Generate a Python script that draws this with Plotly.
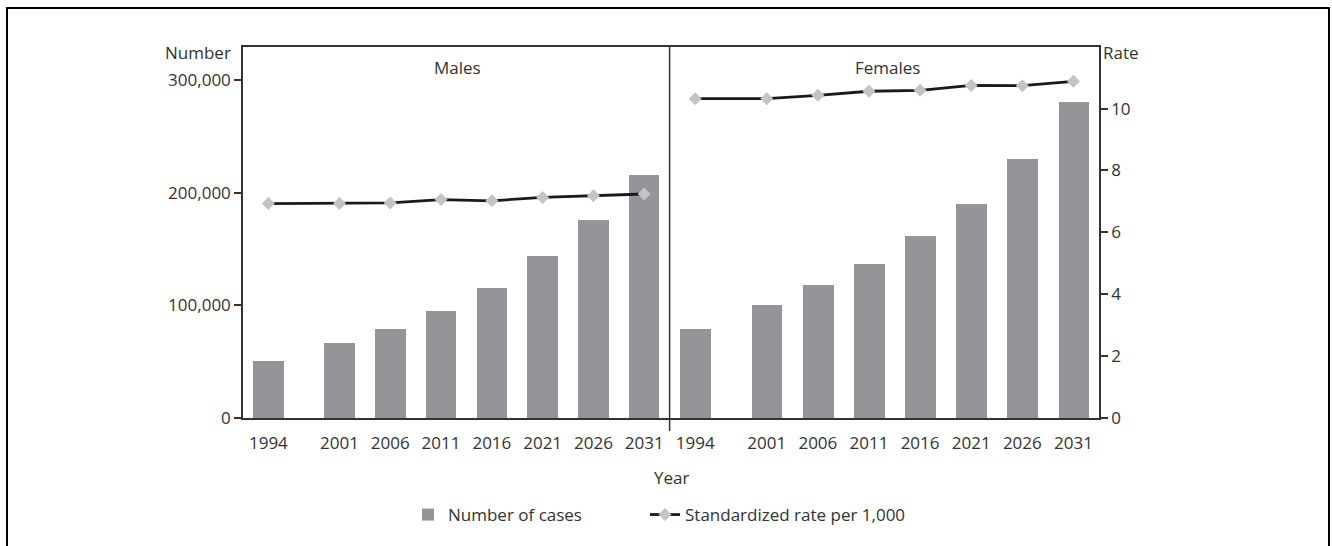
import plotly.graph_objects as go

# ---- data ----
years = [1994, 2001, 2006, 2011, 2016, 2021, 2026, 2031]
year_labels = ["1994", "2001", "2006", "2011", "2016", "2021", "2026", "2031"]
males_cases = [50600, 66500, 79800, 95700, 116000, 144000, 176000, 216500]
females_cases = [79000, 100400, 118100, 136800, 161600, 190900, 230900, 281000]
males_rate = [6.93, 6.93, 6.95, 7.06, 7.02, 7.13, 7.18, 7.24]
females_rate = [10.32, 10.32, 10.43, 10.56, 10.59, 10.75, 10.74, 10.88]
count_ticks = [0, 100000, 200000, 300000]
count_tick_labels = ["0", "100,000", "200,000", "300,000"]
rate_ticks = [0, 2, 4, 6, 8, 10]

W, H = 1332, 546
def px(x): return x / W
def py(y): return 1 - y / H

FONT = "Open Sans"
TXT = "#333333"
AX = "#333333"
BAR = "#939598"
MARK = "#c4c4c4"

x_left, x_mid, x_right = 243, 669.6, 1099
y_top, y_bot = 46.7, 418

fig = go.Figure()
fig.add_trace(go.Bar(x=years, y=males_cases, xaxis="x", yaxis="y", width=3.0,
                     marker=dict(color=BAR, line=dict(width=0)),
                     name="Number of cases", showlegend=True, legend="legend"))
fig.add_trace(go.Bar(x=years, y=females_cases, xaxis="x2", yaxis="y", width=3.0,
                     marker=dict(color=BAR, line=dict(width=0)),
                     name="Number of cases", showlegend=False))
line_style = dict(color="#1a1a1a", width=2.8)
mk = dict(symbol="diamond", color=MARK, size=10, line=dict(width=0))
fig.add_trace(go.Scatter(x=years, y=males_rate, xaxis="x", yaxis="y2", mode="lines+markers",
                         line=line_style, marker=mk, name="Standardized rate per 1,000",
                         showlegend=True, legend="legend2"))
fig.add_trace(go.Scatter(x=years, y=females_rate, xaxis="x2", yaxis="y2", mode="lines+markers",
                         line=line_style, marker=mk, name="Standardized rate per 1,000",
                         showlegend=False))

xcommon = dict(range=[1991.5, 2033.5], tickvals=years, ticktext=year_labels,
               showline=True, linecolor=AX, linewidth=1.5, mirror=True,
               ticks="outside", ticklen=9, tickcolor="rgba(0,0,0,0)",
               showgrid=False, zeroline=False,
               tickfont=dict(family=FONT, size=17, color=TXT))

legend_common = dict(orientation="h", yanchor="middle", xanchor="left",
                     font=dict(family=FONT, size=17, color=TXT),
                     bgcolor="rgba(0,0,0,0)")

fig.update_layout(
    width=W, height=H,
    margin=dict(l=0, r=0, t=0, b=0, autoexpand=False),
    paper_bgcolor="white", plot_bgcolor="white",
    bargap=0,
    font=dict(family=FONT, size=17, color=TXT),
    xaxis=dict(domain=[px(x_left), px(x_mid)], anchor="y", **xcommon),
    xaxis2=dict(domain=[px(x_mid), px(x_right)], anchor="y", **xcommon),
    yaxis=dict(domain=[py(y_bot), py(y_top)], anchor="x", range=[0, 330000],
               tickvals=count_ticks, ticktext=count_tick_labels,
               showline=True, linecolor=AX, linewidth=1.5,
               ticks="outside", ticklen=7, tickcolor=AX, tickwidth=1.5,
               showgrid=False, zeroline=False,
               tickfont=dict(family=FONT, size=17, color=TXT)),
    yaxis2=dict(overlaying="y", anchor="x2", side="right", range=[0, 12],
                tickvals=rate_ticks,
                showline=True, linecolor=AX, linewidth=1.5,
                ticks="outside", ticklen=7, tickcolor=AX, tickwidth=1.5,
                showgrid=False, zeroline=False,
                tickfont=dict(family=FONT, size=17, color=TXT)),
    legend=dict(x=px(408), y=py(515), **legend_common),
    legend2=dict(x=px(645), y=py(515), **legend_common),
    showlegend=True,
)

# divider between panels and outer frame
fig.add_shape(type="line", xref="paper", yref="paper",
              x0=px(x_mid), x1=px(x_mid), y0=py(y_top), y1=py(431),
              line=dict(color=AX, width=1.5))
fig.add_shape(type="rect", xref="paper", yref="paper",
              x0=px(7), x1=px(1329), y0=py(8), y1=py(560),
              line=dict(color="black", width=2), fillcolor="rgba(0,0,0,0)")

def ann(text, x, y, xanchor="center"):
    fig.add_annotation(text=text, xref="paper", yref="paper", x=px(x), y=py(y),
                       xanchor=xanchor, yanchor="middle", showarrow=False,
                       font=dict(family=FONT, size=17, color=TXT))

ann("Number", 233, 53, "right")
ann("Rate", 1101, 53, "left")
ann("Males", 457, 67)
ann("Females", 887, 67)
ann("Year", 672, 477)

fig.write_html("out.html", config={"displayModeBar": False},
               post_script="document.body.style.margin='0px';document.body.style.overflow='hidden';")
